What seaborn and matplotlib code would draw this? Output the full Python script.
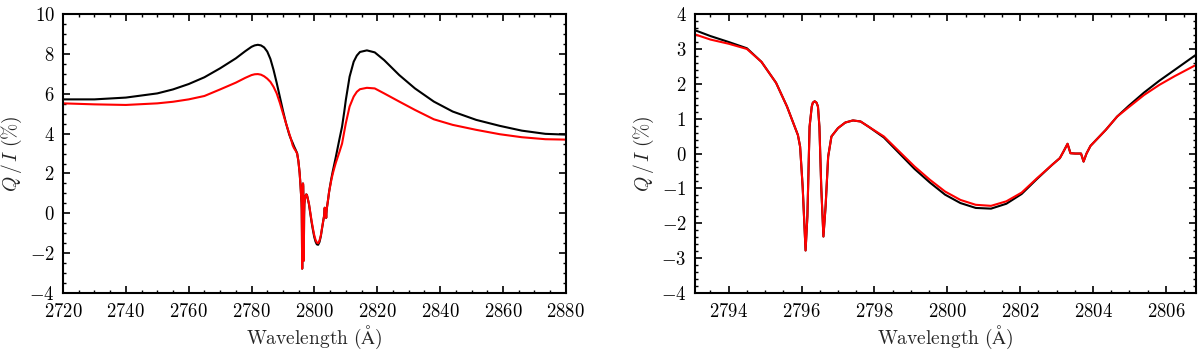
import numpy as np
import matplotlib
matplotlib.use("Agg")
import matplotlib.pyplot as plt
import pandas as pd
import seaborn as sns
from matplotlib.ticker import MultipleLocator, FuncFormatter

# far wings, only seen in the wide panel (Angstrom, Q/I in %)
wing_blue_wl = [2720, 2730, 2740, 2750, 2755, 2760, 2765, 2770, 2775, 2778,
                2780, 2781, 2782, 2783, 2784, 2785, 2786, 2787, 2788, 2789,
                2790, 2791, 2792, 2792.6]
wing_blue_black = [5.72, 5.72, 5.81, 6.02, 6.22, 6.49, 6.83, 7.28, 7.78, 8.14,
                   8.36, 8.43, 8.46, 8.43, 8.33, 8.12, 7.75, 7.2, 6.55, 5.85,
                   5.15, 4.5, 3.95, 3.7]
wing_blue_red = [5.52, 5.47, 5.44, 5.52, 5.6, 5.72, 5.89, 6.22, 6.56, 6.8,
                 6.94, 6.98, 6.99, 6.96, 6.88, 6.76, 6.6, 6.35, 6.02, 5.55,
                 5.02, 4.5, 4.0, 3.7]

wing_red_wl = [2808, 2808.8, 2809.5, 2810, 2811.2, 2812.5, 2813.5, 2814.5,
               2816.7, 2819.2, 2822.2, 2827, 2832, 2838, 2844, 2851.5, 2859,
               2866, 2873.5, 2880]
wing_red_black = [3.75, 4.35, 5.1, 5.69, 6.86, 7.61, 7.92, 8.1, 8.18, 8.08,
                  7.69, 6.94, 6.27, 5.61, 5.11, 4.69, 4.39, 4.15, 3.99, 3.95]
wing_red_red = [3.1, 3.5, 4.1, 4.52, 5.36, 5.86, 6.1, 6.23, 6.3, 6.27, 6.02,
                5.61, 5.19, 4.72, 4.44, 4.19, 3.97, 3.82, 3.72, 3.70]

# line core, seen in the zoomed panel
core_wl = [2793.07, 2793.5, 2794.0, 2794.5, 2794.9, 2795.3, 2795.6, 2795.9,
           2795.96, 2796.03, 2796.11, 2796.16, 2796.22, 2796.28, 2796.31,
           2796.36, 2796.41, 2796.45, 2796.49, 2796.54, 2796.6, 2796.66,
           2796.73, 2796.82, 2797.0, 2797.2, 2797.41, 2797.62, 2797.84,
           2798.26, 2798.68, 2799.1, 2799.52, 2799.94, 2800.36, 2800.78,
           2801.2, 2801.62, 2802.04, 2802.46, 2802.88, 2803.09, 2803.19,
           2803.3, 2803.38, 2803.51, 2803.67, 2803.74, 2803.82, 2803.93,
           2804.35, 2804.66, 2804.98, 2805.4, 2805.82, 2806.24, 2806.82]
core_red = [3.42, 3.27, 3.15, 3.0, 2.63, 2.03, 1.35, 0.53, 0.2, -0.95, -2.78,
            -1.8, 0.77, 1.35, 1.46, 1.5, 1.46, 1.35, 0.77, -0.95, -2.38, -1.51,
            -0.09, 0.49, 0.73, 0.89, 0.95, 0.92, 0.77, 0.49, 0.06, -0.37,
            -0.75, -1.09, -1.33, -1.47, -1.5, -1.37, -1.12, -0.71, -0.32,
            -0.13, 0.06, 0.28, 0.01, 0.0, 0.0, -0.23, 0.0, 0.22, 0.68, 1.06,
            1.33, 1.68, 1.97, 2.22, 2.54]
core_black = [3.54, 3.37, 3.2, 3.02, 2.63, 2.03, 1.35, 0.53, 0.2, -0.95, -2.78,
              -1.8, 0.77, 1.35, 1.46, 1.5, 1.46, 1.35, 0.77, -0.95, -2.38,
              -1.51, -0.09, 0.49, 0.73, 0.89, 0.95, 0.92, 0.77, 0.46, 0.01,
              -0.44, -0.83, -1.18, -1.42, -1.56, -1.58, -1.44, -1.16, -0.73,
              -0.32, -0.13, 0.06, 0.28, 0.01, 0.0, 0.0, -0.23, 0.0, 0.22, 0.68,
              1.06, 1.37, 1.75, 2.09, 2.4, 2.83]

sns.set_theme(style="ticks")
plt.rcParams.update({
    "mathtext.fontset": "cm",
    "font.family": ["DejaVu Serif"],
    "axes.linewidth": 1.5,
    "xtick.direction": "in", "ytick.direction": "in",
    "xtick.top": True, "ytick.right": True,
    "xtick.minor.visible": True, "ytick.minor.visible": True,
    "xtick.major.size": 5, "ytick.major.size": 5,
    "xtick.minor.size": 2.5, "ytick.minor.size": 2.5,
    "xtick.major.width": 1.2, "ytick.major.width": 1.2,
    "xtick.minor.width": 1.0, "ytick.minor.width": 1.0,
    "xtick.major.pad": 7, "ytick.major.pad": 6,
    "xtick.color": "black", "ytick.color": "black",
    "axes.edgecolor": "black",
})

core = pd.DataFrame({"wl": core_wl, "black": core_black, "red": core_red})
full = pd.DataFrame({
    "wl": wing_blue_wl + core_wl + wing_red_wl,
    "black": wing_blue_black + core_black + wing_red_black,
    "red": wing_blue_red + core_red + wing_red_red,
})

fig = plt.figure(figsize=(12, 3.53), dpi=100)
ax1 = fig.add_axes([0.0525, 0.170, 0.419, 0.790])
ax2 = fig.add_axes([0.579, 0.170, 0.4175, 0.790])

math_fmt = FuncFormatter(lambda v, p: f"${v:g}$")

for ax, df in [(ax1, full), (ax2, core)]:
    sns.lineplot(data=df, x="wl", y="black", color="black", lw=1.5,
                 estimator=None, sort=False, ax=ax)
    sns.lineplot(data=df, x="wl", y="red", color="red", lw=1.5,
                 estimator=None, sort=False, ax=ax)
    ax.set_xlabel(r"$\mathrm{Wavelength\ (\AA)}$", fontsize=14, labelpad=2)
    ax.set_ylabel(r"$Q\,/\,I\ (\%)$", fontsize=14)
    ax.xaxis.set_major_formatter(math_fmt)
    ax.yaxis.set_major_formatter(math_fmt)
    ax.tick_params(labelsize=13.5, which="both")

ax1.set_xlim(2720, 2880)
ax1.set_ylim(-4, 10)
ax1.xaxis.set_major_locator(MultipleLocator(20))
ax1.xaxis.set_minor_locator(MultipleLocator(5))
ax1.yaxis.set_major_locator(MultipleLocator(2))
ax1.yaxis.set_minor_locator(MultipleLocator(0.5))

ax2.set_xlim(2793.07, 2806.82)
ax2.set_ylim(-4, 4)
ax2.xaxis.set_major_locator(MultipleLocator(2))
ax2.xaxis.set_minor_locator(MultipleLocator(0.5))
ax2.yaxis.set_major_locator(MultipleLocator(1))
ax2.yaxis.set_minor_locator(MultipleLocator(0.2))

fig.savefig("out.png", dpi=100)
